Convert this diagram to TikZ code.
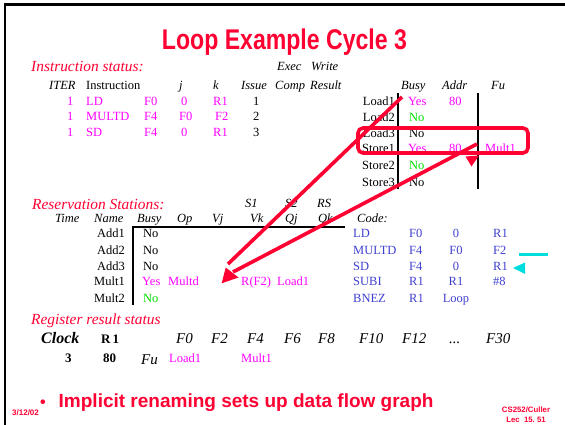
\documentclass[tikz,border=0pt]{standalone}
\usepackage{fontspec}
\setmainfont{Liberation Serif}
\newfontfamily\hvfont{Liberation Sans}
\definecolor{slidered}{RGB}{255,0,51}
\definecolor{mag}{RGB}{255,0,255}
\definecolor{grn}{RGB}{0,225,0}
\definecolor{codeblue}{RGB}{64,64,208}
\definecolor{cyanmark}{RGB}{0,221,221}
\newcommand\fsz[1]{\fontsize{#1}{#1}\selectfont}

\begin{document}
\begin{tikzpicture}[x=1pt,y=-1pt,
  txt/.style={anchor=base west,inner sep=0pt,font=\fsz{12.5}},
  txr/.style={anchor=base east,inner sep=0pt,font=\fsz{12.5}},
  txc/.style={anchor=base,inner sep=0pt,font=\fsz{12.5}},
  hd/.style={txt,font=\fsz{12.5}\itshape},
  sect/.style={txt,font=\fsz{15.4}\itshape,text=slidered},
  reg/.style={txt,font=\fsz{15}\itshape},
  mg/.style={text=mag},
  gn/.style={text=grn},
  cb/.style={text=codeblue},
  rule/.style={line width=1.8pt},
  redstroke/.style={draw=slidered,line width=3.6pt},
]
\useasboundingbox (0,0) rectangle (565,425);
\fill[white] (0,0) rectangle (565,425);

% slide frame (top and left edges)
\draw[line width=2.5pt] (565,4.5) -- (5,4.5) -- (5,425);

% title
\node[anchor=base,inner sep=0pt,text=slidered,font=\hvfont\bfseries\fsz{28.5}] (title) at (284.5,50)
  {\scalebox{0.81}[1]{Loop Example Cycle 3}};

% ---------------- instruction status ----------------
\node[sect] (instat) at (31,72) {Instruction status:};
\node[hd] (hexec) at (277,71) {Exec};
\node[hd] (hwrite) at (311,71) {Write};
\node[hd] (hiter) at (49,90) {ITER};
\node[txt] (hinstr) at (86,90) {Instruction};
\node[hd] (hj) at (179,90) {j};
\node[hd] (hk) at (213,90) {k};
\node[hd] (hissue) at (241,90) {Issue};
\node[hd] (hcomp) at (275,90) {Comp};
\node[hd] (hres) at (310,90) {Result};
\node[hd] (hbusy) at (401,90) {Busy};
\node[hd] (haddr) at (442,90) {Addr};
\node[hd] (hfu) at (491,90) {Fu};

\node[txt,mg] (it1) at (67,106) {1};
\node[txt,mg] (op1) at (86,106) {LD};
\node[txt,mg] (d1) at (144,106) {F0};
\node[txt,mg] (j1) at (181,106) {0};
\node[txt,mg] (k1) at (213,106) {R1};
\node[txt] (is1) at (253,106) {1};

\node[txt,mg] (it2) at (67,121) {1};
\node[txt,mg] (op2) at (86,121) {MULTD};
\node[txt,mg] (d2) at (144,121) {F4};
\node[txt,mg] (j2) at (179,121) {F0};
\node[txt,mg] (k2) at (215,121) {F2};
\node[txt] (is2) at (253,121) {2};

\node[txt,mg] (it3) at (67,137) {1};
\node[txt,mg] (op3) at (86,137) {SD};
\node[txt,mg] (d3) at (144,137) {F4};
\node[txt,mg] (j3) at (181,137) {0};
\node[txt,mg] (k3) at (213,137) {R1};
\node[txt] (is3) at (253,137) {3};

% load / store buffers
\node[txr] (ld1) at (395,106) {Load1};
\node[txr] (ld2) at (395,122) {Load2};
\node[txr] (ld3) at (395,138) {Load3};
\node[txr] (st1) at (395,153) {Store1};
\node[txr] (st2) at (395,170) {Store2};
\node[txr] (st3) at (395,186) {Store3};
\node[txt,mg] (ld1b) at (408,106) {Yes};
\node[txt,mg] (ld1a) at (449,106) {80};
\node[txt,gn] (ld2b) at (409,122) {No};
\node[txt] (ld3b) at (409,138) {No};
\node[txt,mg] (st1b) at (408,153) {Yes};
\node[txt,mg] (st1a) at (449,153) {80};
\node[txt,mg] (st1f) at (485,153) {Mult1};
\node[txt,gn] (st2b) at (409,170) {No};
\node[txt] (st3b) at (409,186) {No};
\draw[rule] (398,93) -- (398,189);
\draw[rule] (478,93) -- (478,189);

% ---------------- reservation stations ----------------
\node[sect] (rsstat) at (32,209) {Reservation Stations:};
\node[hd] (hs1) at (245,207) {S1};
\node[hd] (hs2) at (285,207) {S2};
\node[hd] (hrs) at (317,207) {RS};
\node[hd] (htime) at (55,222) {Time};
\node[hd] (hname) at (94,222) {Name};
\node[hd] (hrbusy) at (137,222) {Busy};
\node[hd] (hop) at (177,222) {Op};
\node[hd] (hvj) at (212,222) {Vj};
\node[hd] (hvk) at (250,222) {Vk};
\node[hd] (hqj) at (285,222) {Qj};
\node[hd] (hqk) at (318,222) {Qk};
\node[hd] (hcode) at (357,222) {Code:};
\draw[rule] (345,227) -- (133,227) -- (133,305);

\node[txr] (add1) at (125,237) {Add1};
\node[txr] (add2) at (125,254) {Add2};
\node[txr] (add3) at (125,270) {Add3};
\node[txr] (mul1) at (125,285) {Mult1};
\node[txr] (mul2) at (125,302) {Mult2};
\node[txt] (add1b) at (143,237) {No};
\node[txt] (add2b) at (143,254) {No};
\node[txt] (add3b) at (143,270) {No};
\node[txt,mg] (mul1b) at (142,285) {Yes};
\node[txt,mg] (mul1o) at (168,285) {Multd};
\node[txt,mg] (mul1vk) at (241,285) {R(F2)};
\node[txt,mg] (mul1qj) at (277,285) {Load1};
\node[txt,gn] (mul2b) at (143,302) {No};

% loop code
\node[txt,cb] (c1a) at (353,237) {LD};
\node[txt,cb] (c1b) at (409,237) {F0};
\node[txc,cb] (c1c) at (456,237) {0};
\node[txt,cb] (c1d) at (493,237) {R1};
\node[txt,cb] (c2a) at (353,254) {MULTD};
\node[txt,cb] (c2b) at (409,254) {F4};
\node[txc,cb] (c2c) at (456,254) {F0};
\node[txt,cb] (c2d) at (493,254) {F2};
\node[txt,cb] (c3a) at (353,270) {SD};
\node[txt,cb] (c3b) at (409,270) {F4};
\node[txc,cb] (c3c) at (456,270) {0};
\node[txt,cb] (c3d) at (493,270) {R1};
\node[txt,cb] (c4a) at (353,285) {SUBI};
\node[txt,cb] (c4b) at (409,285) {R1};
\node[txc,cb] (c4c) at (456,285) {R1};
\node[txt,cb] (c4d) at (493,285) {\#8};
\node[txt,cb] (c5a) at (353,302) {BNEZ};
\node[txt,cb] (c5b) at (409,302) {R1};
\node[txc,cb] (c5c) at (456,302) {Loop};

% current-instruction marker
\coordinate (mk1) at (519,254);
\coordinate (mk2) at (548,254);
\draw[cyanmark,line width=3pt] (mk1) -- (mk2);
\fill[cyanmark] (513,268) -- (525,262.5) -- (525,274) -- cycle;

% ---------------- register result status ----------------
\node[sect] (regstat) at (31,324) {Register result status};
\node[txt,font=\fsz{16}\bfseries\itshape] (clk) at (41,343) {Clock};
\node[txt,font=\fsz{13}\bfseries] (rone) at (101,343) {R\,1};
\node[reg] (f0) at (176,343) {F0};
\node[reg] (f2) at (211,343) {F2};
\node[reg] (f4) at (247,343) {F4};
\node[reg] (f6) at (284,343) {F6};
\node[reg] (f8) at (318,343) {F8};
\node[reg] (f10) at (359,343) {F10};
\node[reg] (f12) at (402,343) {F12};
\node[reg] (fdots) at (449,343) {...};
\node[reg] (f30) at (486,343) {F30};
\node[txt,font=\fsz{13}\bfseries] (clkv) at (65,362) {3};
\node[txt,font=\fsz{13}\bfseries] (ronev) at (103,362) {80};
\node[reg] (fu) at (141,364) {Fu};
\node[txt,mg] (f0v) at (169,362) {Load1};
\node[txt,mg] (f4v) at (241,362) {Mult1};

% bottom line and footer
\node[txt,font=\hvfont\bfseries\fsz{16},text=slidered] (dot) at (40,407) {•};
\node[txt,font=\hvfont\bfseries\fsz{19},text=slidered] (bullet) at (58.5,407)
  {Implicit renaming sets up data flow graph};
\node[txt,font=\hvfont\bfseries\fsz{8},text=slidered] (date) at (12,415) {3/12/02};
\node[txc,font=\hvfont\bfseries\fsz{7.8},text=slidered] (course) at (526,412) {CS252/Culler};
\node[txc,font=\hvfont\bfseries\fsz{7.8},text=slidered] (lecture) at (526,422) {Lec\ \ 15.\ 51};

% ---------------- red annotations ----------------
\draw[redstroke,rounded corners=5pt] (358,128) rectangle (528,153);
\coordinate (a1s) at (402,97);
\coordinate (a1e) at (228,264);
\coordinate (a2s) at (477,144);
\coordinate (a2e) at (233,272);
\draw[redstroke] (a1s) -- (a1e);
\draw[redstroke] (a2s) -- (a2e);
\fill[slidered] (221.7,283.3) -- (225.7,267.5) -- (238.5,277.5) -- cycle;
\fill[slidered] (465.5,156.5) -- (479,155.5) -- (471.5,166.5) -- cycle;
\end{tikzpicture}
\end{document}
